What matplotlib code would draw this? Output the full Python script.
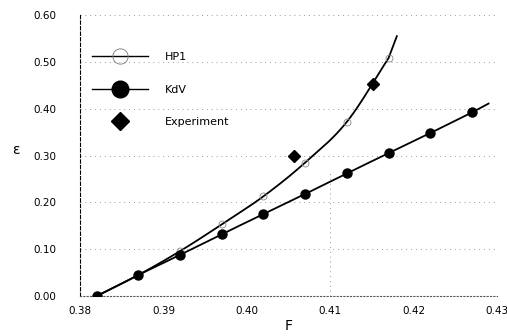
import numpy as np
import matplotlib.pyplot as plt
from matplotlib.lines import Line2D

""" Data """
F_kdv = [0.382, 0.387, 0.392, 0.397, 0.402, 0.407, 0.412, 0.417, 0.422, 0.427]
eps_kdv = [0.0, 0.045, 0.088, 0.132, 0.175, 0.218, 0.262, 0.305, 0.348, 0.392]
F_kdv_end = 0.429
eps_kdv_end = 0.411

F_hp1 = [0.382, 0.387, 0.392, 0.397, 0.402, 0.407, 0.412, 0.417]
eps_hp1 = [0.0, 0.045, 0.096, 0.153, 0.213, 0.285, 0.372, 0.508]
F_hp1_end = 0.418
eps_hp1_end = 0.555

F_exp = [0.4057, 0.4151]
eps_exp = [0.300, 0.452]

xticks = [0.38, 0.39, 0.40, 0.41, 0.42, 0.43]
yticks = [0.0, 0.1, 0.2, 0.3, 0.4, 0.5, 0.6]


""" Smooth drawing path through the points (Catmull-Rom) """
def smooth(x, y, n=20):
    x = np.asarray(x, float)
    y = np.asarray(y, float)
    px = np.concatenate([[2 * x[0] - x[1]], x, [2 * x[-1] - x[-2]]])
    py = np.concatenate([[2 * y[0] - y[1]], y, [2 * y[-1] - y[-2]]])
    t = np.linspace(0, 1, n, endpoint=False)
    xs, ys = [], []
    for i in range(1, len(px) - 2):
        for arr, out in ((px, xs), (py, ys)):
            p0, p1, p2, p3 = arr[i - 1:i + 3]
            out.extend(0.5 * (2 * p1 + (-p0 + p2) * t
                              + (2 * p0 - 5 * p1 + 4 * p2 - p3) * t ** 2
                              + (-p0 + 3 * p1 - 3 * p2 + p3) * t ** 3))
    xs.append(x[-1])
    ys.append(y[-1])
    return xs, ys


""" Figure """
fig = plt.figure(figsize=(5.07, 3.36), dpi=100)
ax = fig.add_axes([0.158, 0.119, 0.822, 0.836])

# model curves: spline through the computed points, then on to the last value
hx, hy = smooth(F_hp1, eps_hp1)
ax.plot(hx + [F_hp1_end], hy + [eps_hp1_end], color="black", lw=1.3, zorder=2)
ax.plot(F_hp1[1:], eps_hp1[1:], ls="none", marker="o", ms=5, mfc="none",
        mec="#888888", mew=0.6, zorder=3)
kx, ky = smooth(F_kdv, eps_kdv)
ax.plot(kx + [F_kdv_end], ky + [eps_kdv_end], color="black", lw=1.3, zorder=2)
ax.plot(F_kdv, eps_kdv, ls="none", marker="o", ms=6.5, color="black", zorder=4)

# measured points
ax.plot(F_exp, eps_exp, ls="none", marker="D", ms=6.5, color="black", zorder=4)

ax.set_xlim(0.38, 0.43)
ax.set_ylim(0.0, 0.6)
ax.set_xticks(xticks)
ax.set_yticks(yticks)
ax.set_xticklabels([f"{t:.2f}" for t in xticks], fontsize=7.5)
ax.set_yticklabels([f"{t:.2f}" for t in yticks], fontsize=7.5)
ax.tick_params(axis="y", length=0, pad=17)
ax.tick_params(axis="x", length=0, pad=7)

ax.grid(True, axis="y", ls=(0, (1, 4)), color="#999999", lw=0.7)
ax.axvline(0.41, ymax=0.45, ls=(0, (1, 4)), color="#999999", lw=0.7)
for s in ["top", "right"]:
    ax.spines[s].set_visible(False)
ax.spines["left"].set_linestyle((0, (3, 2)))
ax.spines["left"].set_linewidth(0.8)
ax.spines["bottom"].set_linestyle((0, (1, 2)))
ax.spines["bottom"].set_color("#555555")

ax.set_xlabel("F", fontsize=10, labelpad=2)
ax.set_ylabel("ε", fontsize=10, rotation=0, va="center")
ax.yaxis.set_label_coords(-0.155, 0.52)

handles = [
    Line2D([], [], color="black", lw=1.0, marker="o", ms=11, mfc="none",
           mec="#777777", mew=0.6),
    Line2D([], [], color="black", lw=1.0, marker="o", ms=12),
    Line2D([], [], ls="none", marker="D", ms=9, color="black"),
]
ax.legend(handles, ["HP1", "KdV", "Experiment"], loc="upper left",
          bbox_to_anchor=(0.005, 0.905), frameon=False, fontsize=8,
          handlelength=5, handletextpad=1.5, labelspacing=2.05)

fig.savefig("out.png", dpi=100)
